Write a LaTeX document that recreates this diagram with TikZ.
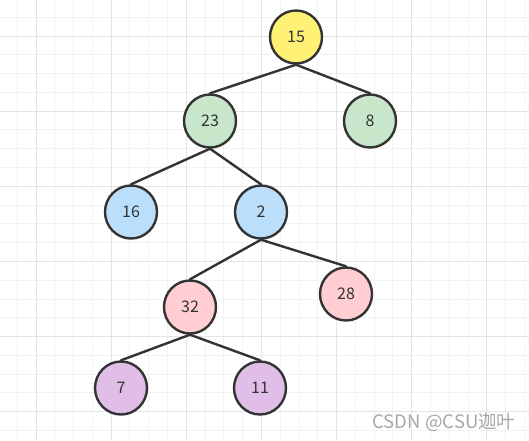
\documentclass[tikz,border=0pt]{standalone}
\usepackage{fontspec}
\setmainfont{Noto Sans CJK SC}
\usetikzlibrary{shapes.geometric}
\definecolor{gridminor}{HTML}{F2F2F2}
\definecolor{gridmajor}{HTML}{E4E4E4}
\definecolor{edgecol}{HTML}{333333}
\definecolor{cyellow}{HTML}{FFF176}
\definecolor{cgreen}{HTML}{C8E6C9}
\definecolor{cblue}{HTML}{BBDEFB}
\definecolor{cpink}{HTML}{FFCDD2}
\definecolor{cpurple}{HTML}{E1BEE7}
\definecolor{wmark}{HTML}{A8A8A8}
\tikzset{
  treenode/.style={ellipse, draw=edgecol, line width=2.4pt, minimum width=52pt, minimum height=53pt, inner sep=0pt, text=edgecol, font=\fontsize{16}{18}\selectfont},
  treeedge/.style={draw=edgecol, line width=2.4pt, line cap=round},
  minorline/.style={draw=gridminor, line width=1pt},
  majorline/.style={draw=gridmajor, line width=1pt}
}
\begin{document}
\begin{tikzpicture}[x=1pt,y=-1pt]
\useasboundingbox (0,0) rectangle (529,440);
\fill[white] (0,0) rectangle (529,440);
% grid
\foreach \i in {0,...,27} {
  \draw[minorline] (17.3+18.78*\i,0) -- (17.3+18.78*\i,440);
}
\foreach \i in {0,...,22} {
  \draw[minorline] (0,17.3+18.78*\i) -- (529,17.3+18.78*\i);
}
\foreach \i in {0,...,6} {
  \draw[majorline] (36.1+75.12*\i,0) -- (36.1+75.12*\i,440);
}
\foreach \i in {0,...,5} {
  \draw[majorline] (0,36.1+75.12*\i) -- (529,36.1+75.12*\i);
}
% nodes
\node[treenode, fill=cyellow] (n15) at (296,37) {15};
\node[treenode, fill=cgreen] (n23) at (210,121) {23};
\node[treenode, fill=cgreen] (n8) at (370,121) {8};
\node[treenode, fill=cblue] (n16) at (131,212) {16};
\node[treenode, fill=cblue] (n2) at (261,212) {2};
\node[treenode, fill=cpink] (n32) at (190,307) {32};
\node[treenode, fill=cpink] (n28) at (346,294) {28};
\node[treenode, fill=cpurple] (n7) at (121,388) {7};
\node[treenode, fill=cpurple] (n11) at (260,388) {11};
% edges
\draw[treeedge] (n15.south) -- (n23.north);
\draw[treeedge] (n15.south) -- (n8.north);
\draw[treeedge] (n23.south) -- (n16.north);
\draw[treeedge] (n23.south) -- (n2.north);
\draw[treeedge] (n2.south) -- (n32.north);
\draw[treeedge] (n2.south) -- (n28.north);
\draw[treeedge] (n32.south) -- (n7.north);
\draw[treeedge] (n32.south) -- (n11.north);
% watermark
\node[text=wmark, font=\fontsize{18.5}{20}\selectfont, inner sep=0pt] (wm) at (444,422) {CSDN @CSU迦叶};
\end{tikzpicture}
\end{document}
